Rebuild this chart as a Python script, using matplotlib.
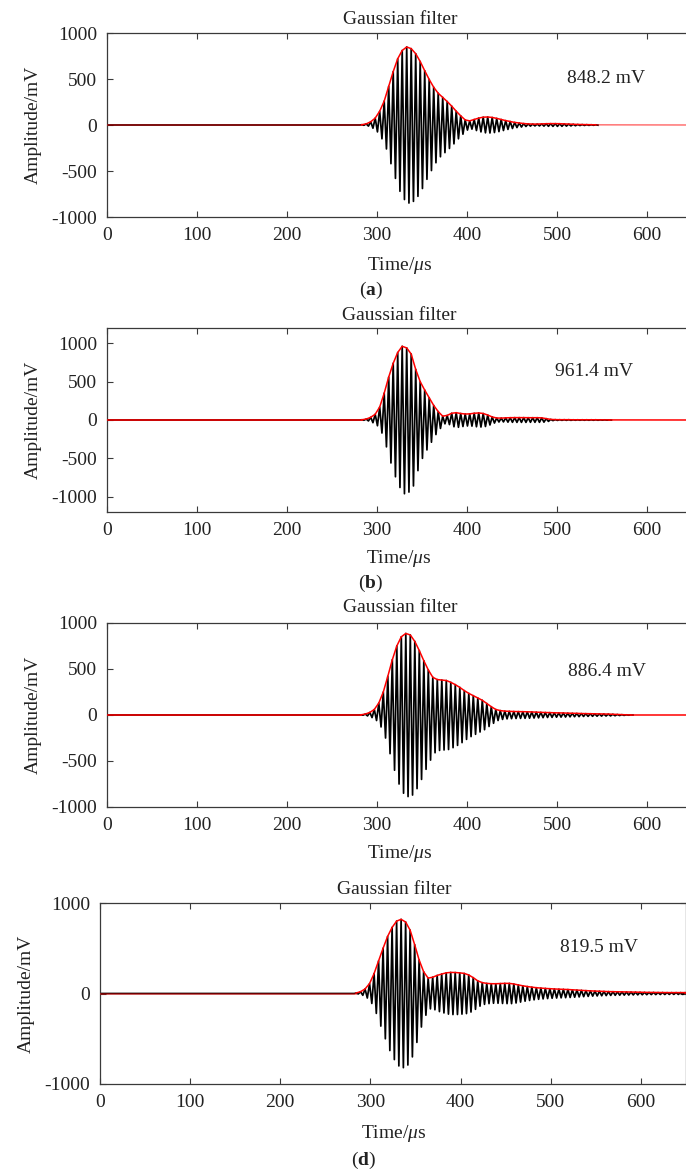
import numpy as np
import matplotlib
matplotlib.use('Agg')
import matplotlib.pyplot as plt

plt.rcParams['font.family'] = ['Liberation Serif', 'DejaVu Serif']
plt.rcParams['mathtext.fontset'] = 'custom'
plt.rcParams['mathtext.rm'] = 'Liberation Serif'
plt.rcParams['mathtext.it'] = 'Liberation Serif:italic'
plt.rcParams['mathtext.bf'] = 'Liberation Serif:bold'
plt.rcParams['axes.unicode_minus'] = False

# ---------------- data ----------------
PERIOD_US = 5.0          # carrier period (200 kHz)
x_ticks = [0, 100, 200, 300, 400, 500, 600]
x_max = 650

# panel (a)
a_start = 283
a_peaks = [3, 12, 35, 75, 150, 260, 420, 580, 720, 810, 848.2, 830, 775, 690, 590,
           495, 410, 345, 300, 255, 205, 150, 100, 55, 45, 60, 75, 85, 87, 82, 72,
           60, 48, 38, 28, 22, 16, 12, 10, 10, 12, 14, 15, 15, 14, 12, 10, 8, 6, 5,
           4, 3, 2]
a_label = "848.2 mV"
a_label_pos = (555, 510)
a_ylim = (-1000, 1000)
a_yticks = [-1000, -500, 0, 500, 1000]

# panel (b)
b_start = 283
b_peaks = [3, 12, 35, 75, 170, 350, 560, 740, 880, 961.4, 940, 860, 660, 500, 390,
           290, 190, 110, 50, 60, 88, 95, 85, 78, 80, 88, 92, 85, 65, 40, 26, 25,
           28, 30, 31, 31, 31, 30, 30, 30, 28, 18, 8, 5, 4, 4, 4, 3, 3, 3, 3, 3, 3,
           2, 2, 1]
b_label = "961.4 mV"
b_label_pos = (541, 630)
b_ylim = (-1200, 1200)
b_yticks = [-1000, -500, 0, 500, 1000]

# panel (c)
c_start = 282
c_peaks = [2, 10, 28, 60, 130, 250, 420, 600, 750, 850, 886.4, 870, 800, 700, 590,
           490, 410, 385, 380, 375, 355, 330, 300, 265, 235, 210, 185, 160, 125, 90,
           60, 48, 42, 40, 38, 37, 36, 35, 33, 31, 29, 27, 26, 24, 23, 22, 20, 19,
           18, 16, 15, 14, 13, 12, 11, 10, 8, 6, 4, 2, 0]
c_label = "886.4 mV"
c_label_pos = (555, 470)
c_ylim = (-1000, 1000)
c_yticks = [-1000, -500, 0, 500, 1000]

# panel (d)
d_start = 284
d_peaks = [5, 20, 50, 110, 220, 360, 500, 630, 730, 800, 819.5, 790, 700, 540, 370,
           240, 170, 180, 200, 215, 228, 233, 232, 228, 222, 205, 175, 140, 120, 112,
           108, 108, 110, 112, 112, 105, 95, 85, 77, 70, 64, 60, 56, 53, 50, 48, 46,
           44, 41, 38, 35, 32, 29, 27, 25, 23, 21, 20, 19, 18, 17, 16, 15, 14, 13,
           12, 12, 11, 11, 10, 10, 10, 10, 10]
d_label = "819.5 mV"
d_label_pos = (554, 510)
d_ylim = (-1000, 1000)
d_yticks = [-1000, 0, 1000]

panels = [
    dict(start=a_start, peaks=a_peaks, label=a_label, lpos=a_label_pos, ylim=a_ylim,
         yticks=a_yticks, tag=r"($\mathbf{a}$)", base_alpha=0.55),
    dict(start=b_start, peaks=b_peaks, label=b_label, lpos=b_label_pos, ylim=b_ylim,
         yticks=b_yticks, tag=r"($\mathbf{b}$)", base_alpha=1.0),
    dict(start=c_start, peaks=c_peaks, label=c_label, lpos=c_label_pos, ylim=c_ylim,
         yticks=c_yticks, tag=None, base_alpha=1.0),
    dict(start=d_start, peaks=d_peaks, label=d_label, lpos=d_label_pos, ylim=d_ylim,
         yticks=d_yticks, tag=r"($\mathbf{d}$)", base_alpha=0.55),
]

# ---------------- layout (pixels) ----------------
W, H = 686, 1171
# left, top, bottom, width(for 0..650), title_y, xlabel_y, tag_y, center_x, tag_x, ylabel_x
layout = [
    (107, 33, 217, 585, 19, 265, 290, 400, 371, 33),
    (107, 328, 512, 585, 315, 559, 583, 399, 371, 33),
    (107, 623, 807, 585, 608, 854, None, 400, None, 33),
    (100, 903, 1084, 586, 889, 1134, 1160, 394, 364, 26),
]

fig = plt.figure(figsize=(W / 100, H / 100), dpi=100)
fs = 14
spine_col = '#3a3a3a'

def fx(px):
    return px / W

def fy(py):
    return 1 - py / H

for p, (left, top, bot, wid, ty, xly, tgy, cx, tgx, ylx) in zip(panels, layout):
    ax = fig.add_axes([left / W, 1 - bot / H, wid / W, (bot - top) / H])
    pk = np.asarray(p['peaks'], dtype=float)
    n = len(pk)
    tp = p['start'] + PERIOD_US * np.arange(n)
    # black oscillating signal: alternating positive peaks and negative troughs
    xs = np.empty(2 * n)
    ys = np.empty(2 * n)
    xs[0::2] = tp
    xs[1::2] = tp + PERIOD_US / 2
    ys[0::2] = pk
    ys[1::2] = -pk
    xs = np.concatenate([[0, p['start'] - 2], xs])
    ys = np.concatenate([[0, 0], ys])
    ax.plot(xs, ys, color='black', lw=1.25, zorder=2)
    # red envelope through the positive peaks
    ax.plot([0, p['start']], [0, 0], color='red', lw=1.1, alpha=p['base_alpha'], zorder=3)
    ax.plot(tp, pk, color='red', lw=1.1, zorder=3)
    ax.plot([tp[-1], x_max], [pk[-1], 0 if pk[-1] < 5 else pk[-1]], color='red', lw=1.1,
            alpha=p['base_alpha'] if pk[-1] < 5 else 1.0, zorder=3)
    ax.set_xlim(0, x_max)
    ax.set_ylim(*p['ylim'])
    ax.set_xticks(x_ticks)
    ax.set_yticks(p['yticks'])
    ax.tick_params(direction='in', top=True, right=True, length=4, width=0.8,
                   labelsize=fs, colors=spine_col, labelcolor='#222222')
    ax.tick_params(axis='x', pad=7)
    ax.tick_params(axis='y', pad=7)
    for s in ax.spines.values():
        s.set_color(spine_col)
        s.set_linewidth(0.9)
    ax.text(p['lpos'][0], p['lpos'][1], p['label'], fontsize=fs, ha='center', va='center',
            color='#222222')
    fig.text(fx(cx), fy(ty), "Gaussian filter", fontsize=fs, ha='center', va='center',
             color='#222222')
    fig.text(fx(cx), fy(xly), r"Time/$\mu$s", fontsize=fs, ha='center', va='center',
             color='#222222')
    fig.text(fx(ylx), fy((top + bot) / 2), "Amplitude/mV", fontsize=fs, rotation=90,
             ha='center', va='center', color='#222222')
    if p['tag'] is not None:
        fig.text(fx(tgx), fy(tgy), p['tag'], fontsize=fs, ha='center', va='center',
                 color='#222222')

fig.savefig('out.png', dpi=100)
